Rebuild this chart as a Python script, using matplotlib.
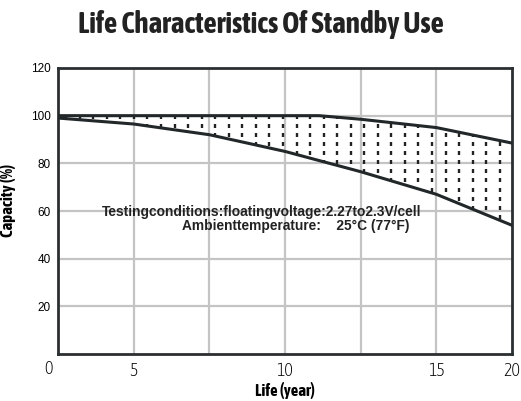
import numpy as np
import matplotlib
matplotlib.use("Agg")
import matplotlib.pyplot as plt
from matplotlib import font_manager

# pick a condensed font that has a bold face, if one exists
NARROW = None
STRETCH = "normal"
bold_names = {}
for f in font_manager.fontManager.ttflist:
    w = f.weight if isinstance(f.weight, int) else (700 if "bold" in str(f.weight).lower() else 400)
    if w >= 600:
        bold_names.setdefault(f.name, []).append(str(f.stretch).lower())
for name, stretches in bold_names.items():
    if "Narrow" in name or "Condensed" in name:
        NARROW = name
        break
if NARROW is None:
    for name, stretches in bold_names.items():
        if any("condensed" in s for s in stretches):
            NARROW = name
            STRETCH = "condensed"
            break
if NARROW is None:
    NARROW = "Liberation Sans"

# data (years, capacity %)
upper_x = [0, 4, 8, 11.5, 13.33, 16.67, 20]
upper_y = [100, 100, 100, 100, 98.5, 95, 88.5]
lower_x = [0, 3.33, 6.67, 10, 13.33, 16.67, 20]
lower_y = [99, 96.5, 92, 85, 76.5, 67, 54]

origin_label_x = -0.44
xtick_pos = [3.33, 10, 16.67, 20]
xtick_labels = ["5", "10", "15", "20"]
ytick_vals = [20, 40, 60, 80, 100, 120]
xgrid = [20 / 6 * i for i in range(1, 6)]

fig = plt.figure(figsize=(5.21, 4.01), dpi=100)
ax = fig.add_axes([58 / 521, 1 - 354 / 401, (512 - 58) / 521, (354 - 68) / 401])

for gx in xgrid:
    ax.axvline(gx, color="#c4c4c4", lw=1.6, zorder=0)
for gy in [20, 40, 60, 80, 100]:
    ax.axhline(gy, color="#c4c4c4", lw=1.6, zorder=0)

# dotted fill region
xs = np.linspace(0, 20, 400)
up = np.interp(xs, upper_x, upper_y)
lo = np.interp(xs, lower_x, lower_y)
poly = ax.fill_between(xs, lo, up, color="none", lw=0)
dx = 20 / 33.5
dy = 3.8
gx, gy = np.meshgrid(np.arange(dx * 0.6, 20, dx), np.arange(50, 101, dy))
mask = (gy <= np.interp(gx, xs, up) + 0.5) & (gy >= np.interp(gx, xs, lo) - 0.5)
sc = ax.scatter(gx[mask], gy[mask], marker="|", s=9, color="#222222", lw=1.7, zorder=2)
sc.set_clip_path(poly.get_paths()[0], ax.transData)

ax.plot(upper_x, upper_y, color="#22272a", lw=2.2, zorder=3, solid_joinstyle="round")
ax.plot(lower_x, lower_y, color="#22272a", lw=2.2, zorder=3, solid_joinstyle="round")

for s in ax.spines.values():
    s.set_linewidth(2.0)
    s.set_color("#2a2f32")

ax.set_xticks(xtick_pos)
ax.set_xticklabels(xtick_labels, fontfamily=NARROW, fontstretch=STRETCH, fontsize=13,
                   fontweight="light")
ax.set_yticks(ytick_vals)
ax.set_yticklabels([str(v) for v in ytick_vals], fontfamily="Liberation Sans", fontsize=8.5)
ax.tick_params(length=0, pad=5)
ax.tick_params(axis="x", pad=6)
ax.set_xlim(0, 20)
ax.set_ylim(0, 120)

ax.text(origin_label_x, -0.021, "0", transform=ax.get_xaxis_transform(), ha="center", va="top",
        fontfamily=NARROW, fontstretch=STRETCH, fontsize=13, fontweight="light", clip_on=False)

ax.set_xlabel("Life (year)", fontfamily=NARROW, fontstretch=STRETCH, fontweight="bold",
              fontsize=12, labelpad=1)
ax.set_ylabel("Capacity (%)", fontfamily=NARROW, fontstretch=STRETCH, fontweight="bold",
              fontsize=12)
ax.yaxis.set_label_coords(-0.092, 0.538)

fig.text(0.501, 0.94, "Life Characteristics Of Standby Use", ha="center", va="center",
         fontfamily=NARROW, fontstretch=STRETCH, fontweight="bold", fontsize=21, color="#222222")

ax.text(1.95, 59.6, "Testingconditions:floatingvoltage:2.27to2.3V/cell", fontfamily="Liberation Sans",
        fontweight="bold", fontsize=9.9, ha="left", va="center", color="#222222")
ax.text(5.45, 53.7, "Ambienttemperature:    25°C (77°F)", fontfamily="Liberation Sans",
        fontweight="bold", fontsize=9.9, ha="left", va="center", color="#222222")

fig.savefig("out.png", dpi=100)
